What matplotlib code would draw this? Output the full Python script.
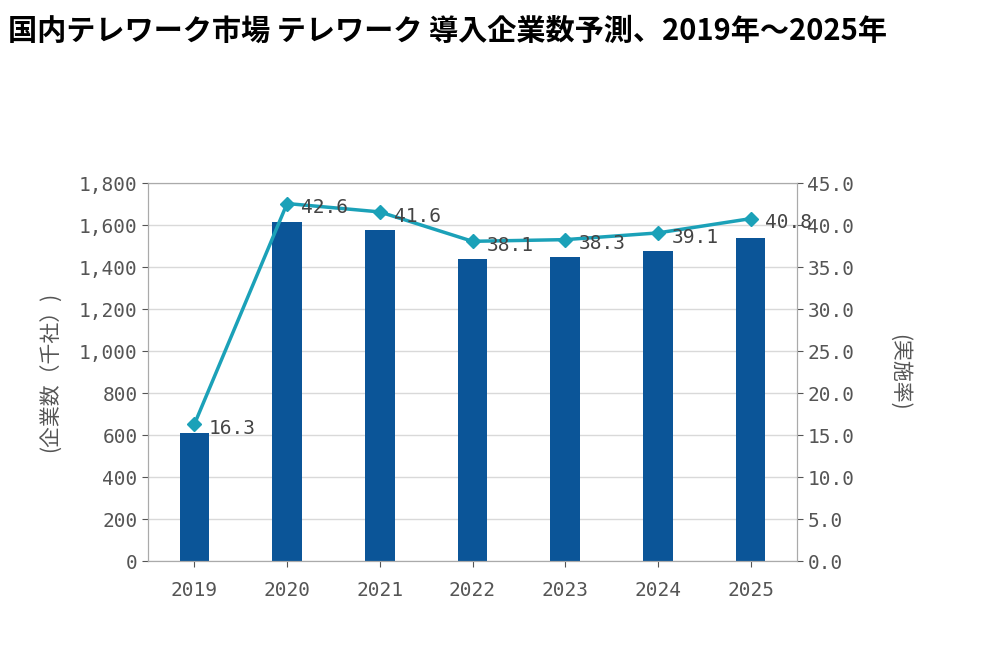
import matplotlib.pyplot as plt
import numpy as np

plt.rcParams['font.family'] = ['Noto Sans CJK JP', 'DejaVu Sans']

years = ['2019', '2020', '2021', '2022', '2023', '2024', '2025']
companies = [610, 1615, 1578, 1440, 1450, 1478, 1540]
rate = [16.3, 42.6, 41.6, 38.1, 38.3, 39.1, 40.8]

fig = plt.figure(figsize=(10, 6.48), dpi=100)
ax = fig.add_axes([0.148, 0.134, 0.649, 0.583])
x = np.arange(len(years))
ax.bar(x, companies, width=0.32, color='#0b5598', zorder=2)
ax.set_xlim(-0.5, 6.5)
ax.set_ylim(0, 1800)
ax.set_yticks(range(0, 1801, 200))
ax.set_yticklabels([f'{v:,}' for v in range(0, 1801, 200)])
ax.set_xticks(x)
ax.set_xticklabels(years)
ax.yaxis.grid(True, color='#d9d9d9', lw=1, zorder=0)
ax.set_axisbelow(True)
ax.set_ylabel('(企業数（千社）)', color='#555555', fontsize=15, labelpad=12)

ax2 = ax.twinx()
ax2.set_ylim(0, 45)
ax2.set_yticks(np.arange(0, 45.1, 5))
ax2.set_yticklabels([f'{v:.1f}' for v in np.arange(0, 45.1, 5)])
ax2.plot(x, rate, color='#1ba1b8', lw=2.5, marker='D', ms=7, zorder=3)
for xi, r in zip(x, rate):
    ax2.annotate(f'{r:.1f}', (xi, r), xytext=(10, -3), textcoords='offset points',
                 ha='left', va='center', fontsize=14, color='#444444',
                 family='DejaVu Sans Mono')
ax2.set_ylabel('(実施率)', color='#555555', fontsize=15, rotation=270, labelpad=40)

for a in (ax, ax2):
    for s in a.spines.values():
        s.set_color('#aaaaaa')
    a.tick_params(colors='#555555', labelsize=14, length=4)
    for lab in a.get_xticklabels() + a.get_yticklabels():
        lab.set_family('DejaVu Sans Mono')
ax.tick_params(axis='x', pad=10)

fig.text(0.008, 0.952, '国内テレワーク市場 テレワーク 導入企業数予測、2019年～2025年',
         fontsize=21, fontweight='bold', ha='left', va='center')

fig.savefig('out.png', dpi=100)
